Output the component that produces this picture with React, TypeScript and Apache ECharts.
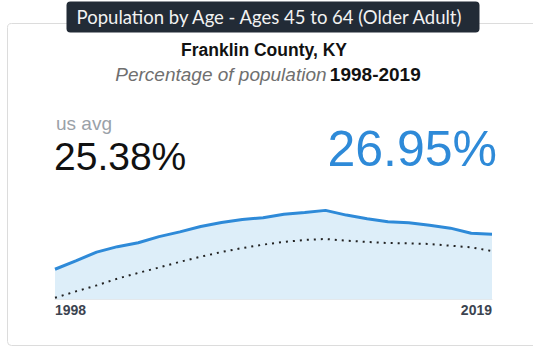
import React, { useEffect, useRef } from "react";
import * as echarts from "echarts";

const years = ["1998","1999","2000","2001","2002","2003","2004","2005","2006","2007","2008","2009","2010","2011","2012","2013","2014","2015","2016","2017","2018","2019"];
const countyValues = [23.68,24.47,25.28,25.79,26.16,26.73,27.17,27.67,28.05,28.33,28.49,28.81,28.99,29.18,28.74,28.40,28.11,28.02,27.80,27.52,27.04,26.95];
const usValues = [21.01,21.61,22.17,22.80,23.34,23.84,24.37,24.85,25.29,25.66,25.98,26.23,26.42,26.51,26.35,26.23,26.13,26.10,26.04,25.88,25.73,25.38];
const headerTitle = "Population by Age - Ages 45 to 64 (Older Adult)";
const placeName = "Franklin County, KY";
const subtitleItalic = "Percentage of population";
const subtitleBold = "1998-2019";
const usLabel = "us avg";
const usLatest = "25.38%";
const countyLatest = "26.95%";

export default function App() {
  const ref = useRef<HTMLDivElement>(null);
  useEffect(() => {
    if (!ref.current) return;
    const chart = echarts.init(ref.current, null, { renderer: "svg" });
    const last = years.length - 1;
    chart.setOption({
      animation: false,
      grid: { left: 55, right: 41, top: 200, bottom: 48 },
      xAxis: {
        type: "category",
        data: years,
        boundaryGap: false,
        axisLine: { show: true, lineStyle: { color: "#e3e8ec", width: 1 } },
        axisTick: { show: false },
        axisLabel: {
          interval: (i: number) => i === 0 || i === last,
          alignMinLabel: "left",
          alignMaxLabel: "right",
          color: "#3c4450",
          fontWeight: "bold",
          fontSize: 14,
          fontFamily: "Liberation Sans, Arial, sans-serif",
          margin: 4,
        },
        splitLine: { show: false },
      },
      yAxis: {
        type: "value",
        min: 20.9,
        max: 30.15,
        show: false,
        splitLine: { show: false },
      },
      series: [
        {
          type: "line",
          data: countyValues,
          symbol: "none",
          lineStyle: { color: "#2e8ad8", width: 3 },
          areaStyle: { color: "#ddeef9", opacity: 1 },
          z: 2,
        },
        {
          type: "line",
          data: usValues,
          symbol: "none",
          lineStyle: { color: "#222", width: 2, type: [2, 5] },
          z: 3,
        },
      ],
      graphic: [
        {
          type: "rect",
          shape: { x: 7.5, y: 23.5, width: 540, height: 322, r: 4 },
          style: { fill: "#fff", stroke: "#dcdcdc", lineWidth: 1 },
          z: -10,
        },
        {
          type: "rect",
          shape: { x: 66.5, y: 1.5, width: 413, height: 31, r: 4 },
          style: { fill: "#222b36" },
          z: 10,
        },
        {
          type: "text",
          x: 269,
          y: 17,
          style: {
            text: headerTitle,
            fill: "#f2f2f2",
            font: "18.5px Lato, sans-serif",
            align: "center",
            verticalAlign: "middle",
          },
          z: 11,
        },
        {
          type: "text",
          x: 264,
          y: 50,
          style: {
            text: placeName,
            fill: "#111",
            font: "bold 17.5px 'Liberation Sans', Arial, sans-serif",
            align: "center",
            verticalAlign: "middle",
          },
        },
        {
          type: "text",
          x: 268,
          y: 74,
          style: {
            text: "{i|" + subtitleItalic + "} {b|" + subtitleBold + "}",
            align: "center",
            verticalAlign: "middle",
            rich: {
              i: { font: "italic 19px 'Liberation Sans', Arial, sans-serif", fill: "#6f6f6f" },
              b: { font: "bold 19px 'Liberation Sans', Arial, sans-serif", fill: "#111" },
            },
          },
        },
        {
          type: "text",
          x: 56,
          y: 123,
          style: {
            text: usLabel,
            fill: "#9aa1a8",
            font: "19px 'Liberation Sans', Arial, sans-serif",
            align: "left",
            verticalAlign: "middle",
          },
        },
        {
          type: "text",
          x: 54,
          y: 156,
          style: {
            text: usLatest,
            fill: "#111",
            font: "39px 'Liberation Sans', Arial, sans-serif",
            align: "left",
            verticalAlign: "middle",
          },
        },
        {
          type: "text",
          x: 497,
          y: 149,
          style: {
            text: countyLatest,
            fill: "#2e8ad8",
            font: "50px 'Liberation Sans', Arial, sans-serif",
            align: "right",
            verticalAlign: "middle",
          },
        },
      ],
    } as any);
    return () => chart.dispose();
  }, []);
  return (
    <div
      ref={ref}
      style={{ position: "absolute", left: 0, top: 0, width: 533, height: 347 }}
    />
  );
}
